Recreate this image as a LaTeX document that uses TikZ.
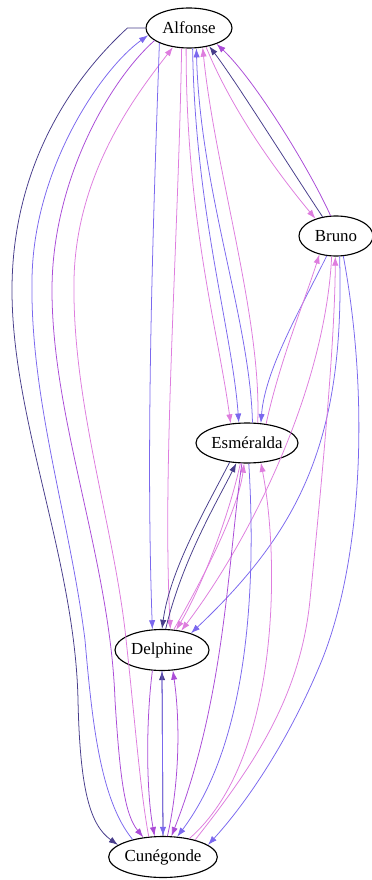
\documentclass[tikz,border=0pt]{standalone}
\usepackage{fontspec}
\setmainfont{Liberation Serif}
\usetikzlibrary{shapes.geometric,arrows.meta}

\definecolor{slatedark}{RGB}{72,61,139}
\definecolor{slatemid}{RGB}{123,104,238}
\definecolor{orchiddark}{RGB}{170,75,215}
\definecolor{orchidlight}{RGB}{222,125,222}

\begin{document}
\begin{tikzpicture}[x=0.025cm,y=0.025cm]

      % One unit is one pixel of the layout, so positions below are in pixels (y goes down)
      \def\pxu{0.025cm}

      % Styles for the people and for the four kinds of links
      \tikzstyle{person}=[ellipse,draw,line width=0.8pt,inner sep=0pt,font=\fontsize{12}{14}\selectfont]
      \tikzstyle{link}=[-{Latex[length=6.5pt,width=4.5pt]},line width=0.55pt]
      \tikzstyle{dk}=[link,draw=slatedark]
      \tikzstyle{ms}=[link,draw=slatemid]
      \tikzstyle{pu}=[link,draw=orchiddark]
      \tikzstyle{pk}=[link,draw=orchidlight]

      \useasboundingbox (0,0) rectangle (371,-880);

      % The five people
      \node[person,minimum width=86*\pxu,minimum height=40*\pxu] (alf) at (189,-28) {Alfonse};
      \node[person,minimum width=74*\pxu,minimum height=40*\pxu] (bru) at (336,-236) {Bruno};
      \node[person,minimum width=102*\pxu,minimum height=40*\pxu] (esm) at (247,-443) {Esméralda};
      \node[person,minimum width=94*\pxu,minimum height=41*\pxu] (del) at (162,-650) {Delphine};
      \node[person,minimum width=108*\pxu,minimum height=41*\pxu] (cun) at (163,-857) {Cunégonde};

      % Long links down the left side, between Alfonse and Cunégonde
      \draw [dk] (alf.west) -- ++(-18,0) .. controls (60,-90) and (12,-180) .. (12,-290)
            .. controls (12,-420) and (75,-560) .. (78,-700) .. controls (80,-790) and (90,-825) .. (cun.165);
      \draw [ms] (cun.150) .. controls (100,-800) and (92,-720) .. (85,-640)
            .. controls (70,-520) and (30,-400) .. (32,-280) .. controls (33,-170) and (100,-70) .. (alf.190);
      \draw [pu] (alf.200) .. controls (110,-80) and (52,-180) .. (52,-290)
            .. controls (52,-420) and (110,-560) .. (115,-700) .. controls (120,-780) and (125,-815) .. (cun.135);
      \draw [pk] (cun.125) .. controls (140,-790) and (135,-720) .. (125,-630)
            .. controls (112,-520) and (72,-400) .. (74,-280) .. controls (76,-170) and (140,-90) .. (alf.230);

      % Alfonse and Delphine
      \draw [ms] (alf.207) .. controls (152,-250) and (146,-450) .. (del.115);
      \draw [pk] (alf.250) .. controls (178,-250) and (162,-470) .. (del.68);

      % Alfonse and Esméralda
      \draw [pk] (alf.262) .. controls (186,-220) and (218,-330) .. (esm.130);
      \draw [ms] (alf.280) .. controls (195,-210) and (232,-330) .. (esm.112);
      \draw [ms] (esm.75) .. controls (250,-320) and (200,-190) .. (alf.290);
      \draw [pk] (esm.62) .. controls (262,-320) and (215,-170) .. (alf.305);

      % Alfonse and Bruno
      \draw [pk] (alf.312) .. controls (232,-110) and (275,-170) .. (bru.140);
      \draw [dk] (bru.125) .. controls (285,-160) and (235,-80) .. (alf.318);
      \draw [pu] (bru.105) .. controls (310,-170) and (255,-80) .. (alf.330);

      % Bruno and the others
      \draw [ms] (bru.245) .. controls (300,-310) and (265,-370) .. (esm.55);
      \draw [pk] (esm.45) .. controls (280,-360) and (305,-300) .. (bru.228);
      \draw [ms] (bru.280) .. controls (345,-440) and (300,-530) .. (del.30);
      \draw [pk] (bru.258) .. controls (325,-390) and (250,-540) .. (del.45);
      \draw [ms] (bru.290) .. controls (370,-400) and (362,-560) .. (322,-660)
            .. controls (285,-750) and (240,-810) .. (cun.15);
      \draw [pk] (cun.28) .. controls (250,-770) and (300,-700) .. (310,-600)
            .. controls (322,-480) and (335,-340) .. (bru.268);

      % Esméralda and Delphine
      \draw [dk] (esm.228) .. controls (205,-510) and (170,-570) .. (del.90);
      \draw [dk] (del.80) .. controls (182,-560) and (218,-500) .. (esm.242);
      \draw [pk] (del.60) .. controls (205,-575) and (238,-510) .. (esm.262);
      \draw [pk] (esm.252) .. controls (228,-520) and (200,-590) .. (del.55);

      % Esméralda and Cunégonde
      \draw [pk] (cun.35) .. controls (280,-760) and (280,-560) .. (esm.305);
      \draw [pu] (esm.256) .. controls (228,-560) and (225,-700) .. (cun.68);
      \draw [ms] (esm.275) .. controls (256,-580) and (250,-740) .. (cun.55);

      % Delphine and Cunégonde
      \draw [pu] (del.245) .. controls (146,-720) and (146,-790) .. (cun.112);
      \draw [dk] (cun.90) -- (del.270);
      \draw [ms] (del.270) -- (cun.90);
      \draw [pu] (cun.78) .. controls (180,-780) and (180,-720) .. (del.298);

\end{tikzpicture}
\end{document}
